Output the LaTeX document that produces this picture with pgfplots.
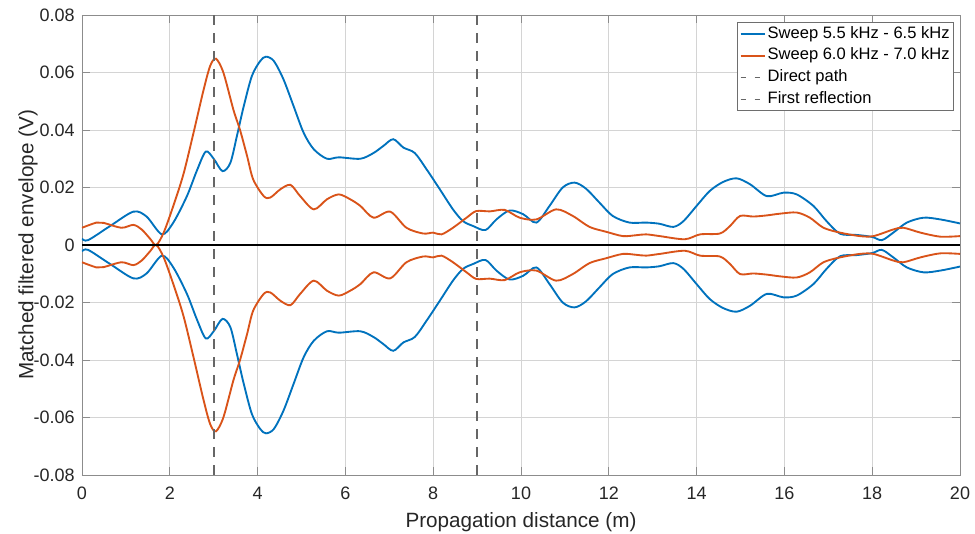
\documentclass[border=0pt]{standalone}
\usepackage{fontspec}
\setmainfont{Liberation Sans}
\usepackage{pgfplots}
\usepackage{pgfplotstable}
\pgfplotsset{compat=1.18}
\definecolor{mblue}{RGB}{0,114,189}
\definecolor{morange}{RGB}{217,83,25}
\definecolor{tickc}{RGB}{38,38,38}
\definecolor{axc}{RGB}{140,140,140}
\definecolor{gridc}{RGB}{212,212,212}
\definecolor{dashc}{RGB}{102,102,102}
\definecolor{legc}{RGB}{110,110,110}

\pgfplotstableread{
x y
0 0.0022
0.14 0.0017
0.64 0.0066
1.17 0.0116
1.47 0.0099
1.82 0.0037
2.08 0.0078
2.39 0.0170
2.62 0.0260
2.82 0.0325
3.00 0.0300
3.20 0.0257
3.38 0.0286
3.53 0.0380
3.68 0.0480
3.87 0.0588
4.06 0.0640
4.19 0.0655
4.37 0.0640
4.59 0.0576
4.82 0.0483
5.05 0.0390
5.28 0.0333
5.58 0.0300
5.85 0.0305
6.34 0.0300
6.64 0.0320
6.86 0.0344
7.09 0.0368
7.32 0.0339
7.58 0.0320
7.85 0.0263
8.15 0.0194
8.45 0.0124
8.68 0.0083
8.91 0.0066
9.19 0.0052
9.44 0.0089
9.74 0.0120
10.05 0.0107
10.35 0.0078
10.65 0.0136
10.95 0.0200
11.22 0.0217
11.48 0.0196
11.79 0.0147
12.09 0.0101
12.47 0.0078
12.85 0.0078
13.15 0.0074
13.47 0.0063
13.70 0.0083
14.00 0.0136
14.30 0.0188
14.60 0.0219
14.91 0.0232
15.22 0.0211
15.60 0.0170
15.98 0.0182
16.28 0.0176
16.66 0.0136
16.96 0.0083
17.27 0.0039
17.65 0.0035
18.00 0.0028
18.22 0.0017
18.48 0.0043
18.79 0.0078
19.17 0.0095
19.55 0.0089
20.00 0.0075
}\blue

\pgfplotstableread{
x y
0 0.0060
0.33 0.0078
0.49 0.0077
0.90 0.0060
1.17 0.0070
1.36 0.0054
1.55 0.0022
1.69 0.0000
1.86 0.0043
2.08 0.0136
2.31 0.0246
2.54 0.0390
2.77 0.0540
2.92 0.0623
3.05 0.0648
3.22 0.0600
3.45 0.0470
3.60 0.0400
3.76 0.0310
3.90 0.0228
4.14 0.0170
4.29 0.0165
4.52 0.0194
4.75 0.0209
4.97 0.0170
5.28 0.0124
5.58 0.0159
5.85 0.0176
6.11 0.0159
6.34 0.0136
6.64 0.0095
7.02 0.0116
7.39 0.0060
7.77 0.0040
8.00 0.0043
8.19 0.0037
8.45 0.0060
8.76 0.0095
8.98 0.0118
9.29 0.0117
9.63 0.0122
9.97 0.0095
10.35 0.0089
10.80 0.0124
11.18 0.0101
11.56 0.0063
11.94 0.0046
12.32 0.0031
12.62 0.0034
12.85 0.0037
13.16 0.0031
13.73 0.0020
14.08 0.0037
14.53 0.0040
14.76 0.0066
14.99 0.0101
15.29 0.0099
15.60 0.0103
15.90 0.0109
16.28 0.0113
16.58 0.0095
16.89 0.0060
17.27 0.0043
17.72 0.0031
18.03 0.0031
18.48 0.0054
18.71 0.0060
19.10 0.0043
19.55 0.0029
20.00 0.0031
}\orange

\begin{document}
\begin{tikzpicture}
\begin{axis}[
  at={(0,0)}, anchor=south west,
  scale only axis, width=658.5pt, height=345pt,
  xmin=0, xmax=20, ymin=-0.08, ymax=0.08,
  xtick={0,2,4,6,8,10,12,14,16,18,20},
  ytick={-0.08,-0.06,-0.04,-0.02,0,0.02,0.04,0.06,0.08},
  yticklabels={-0.08,-0.06,-0.04,-0.02,0,0.02,0.04,0.06,0.08},
  scaled y ticks=false, scaled x ticks=false,
  grid=major,
  major grid style={gridc, line width=0.6pt},
  axis line style={axc, line width=0.7pt},
  tick style={axc, line width=0.7pt},
  tick align=inside, major tick length=6pt,
  xtick pos=both, ytick pos=both,
  tick label style={font=\fontsize{13.5}{16}\selectfont, text=tickc},
  /pgf/number format/assume math mode=true,
  xticklabel style={inner sep=0pt, anchor=north, yshift=-9pt},
  yticklabel style={inner sep=0pt, anchor=east, xshift=-5.25pt},
  xlabel={Propagation distance (m)},
  ylabel={Matched filtered envelope (V)},
  every axis x label/.style={at={(axis description cs:0.5,-0.1137)}, anchor=base},
  every axis y label/.style={at={(axis description cs:-0.0554,0.5)}, rotate=90, anchor=base},
  label style={font=\fontsize{15.5}{18}\selectfont, text=tickc},
  legend style={at={(axis description cs:0.9924,0.9841)}, anchor=north east,
    draw=legc, line width=0.6pt, fill=white,
    font=\fontsize{12.4}{14}\selectfont, text=black,
    inner xsep=1.5pt, inner ysep=2.5pt, row sep=4.3pt,
    nodes={inner xsep=1pt, inner ysep=0pt, text height=9pt, text depth=3pt},
    cells={anchor=west}},
  legend image code/.code={\draw[#1] (0pt,0pt) -- (18.5pt,0pt);},
]
\addplot[mblue, line width=1.4pt, smooth] table[x=x, y=y]{\blue};
\addplot[morange, line width=1.4pt, smooth] table[x=x, y=y]{\orange};
\addplot[mblue, line width=1.4pt, smooth, forget plot] table[x=x, y expr=-\thisrow{y}]{\blue};
\addplot[morange, line width=1.4pt, smooth, forget plot] table[x=x, y expr=-\thisrow{y}]{\orange};
\addplot[black, line width=1.2pt, forget plot] coordinates {(0,0) (20,0)};
\addplot[dashc, line width=1.4pt, dash pattern=on 7.5pt off 6pt,
  legend image post style={dash pattern=on 3.75pt off 6.75pt, line width=1.1pt}] coordinates {(3,0.08) (3,-0.08)};
\addplot[dashc, line width=1.4pt, dash pattern=on 7.5pt off 6pt,
  legend image post style={dash pattern=on 3.75pt off 6.75pt, line width=1.1pt}] coordinates {(9,0.08) (9,-0.08)};
\legend{Sweep 5.5 kHz - 6.5 kHz, Sweep 6.0 kHz - 7.0 kHz, Direct path, First reflection}
\end{axis}
\pgfresetboundingbox
\path[use as bounding box] (-61.5pt,-43.5pt) rectangle (669.75pt,356.25pt);
\end{tikzpicture}
\end{document}
